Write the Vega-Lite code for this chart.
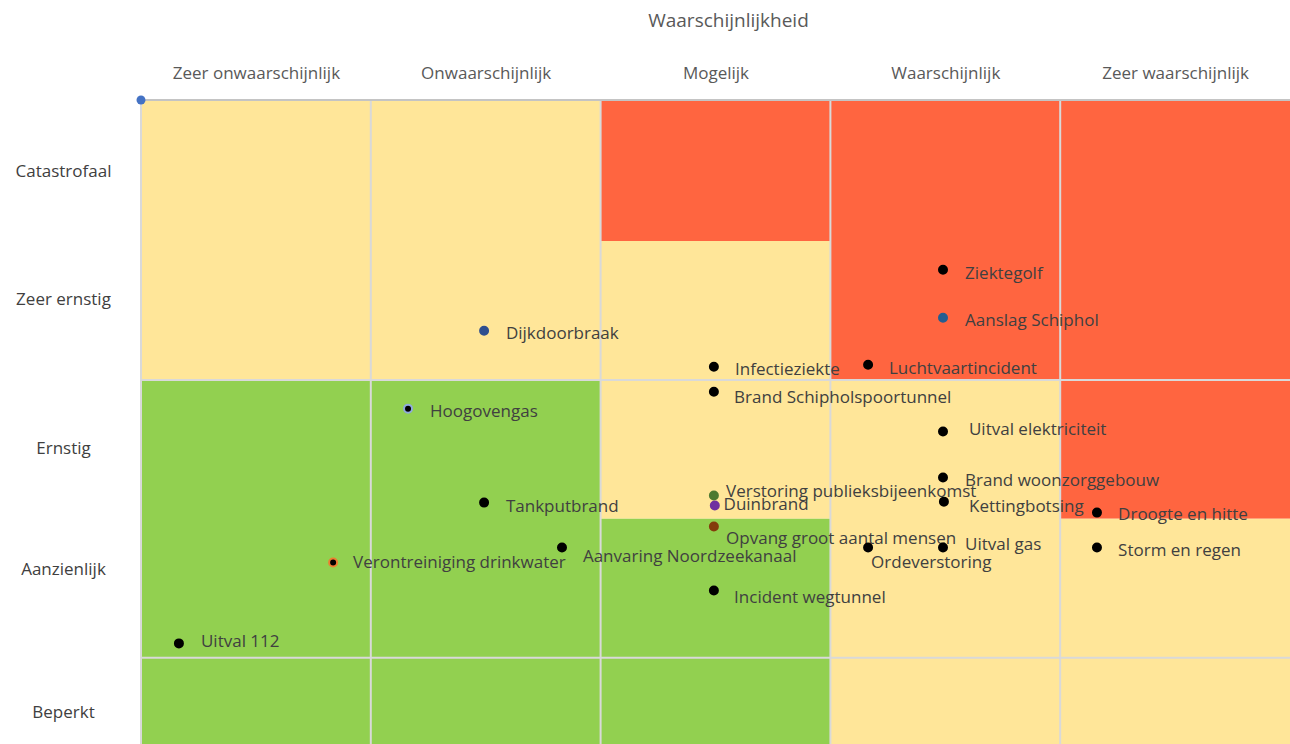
{
  "$schema": "https://vega.github.io/schema/vega-lite/v6.json",
  "width": 1149,
  "height": 644,
  "autosize": {"type": "none"},
  "padding": {"left": 141, "top": 100, "right": 0, "bottom": 0},
  "background": "white",
  "config": {"view": {"stroke": null}, "font": "Open Sans"},
  "resolve": {"scale": {"fill": "independent", "stroke": "independent"}},
  "datasets": {
    "zones": [
      {"x": 0, "x2": 2, "y": 3, "y2": 5.014, "zone": "geel"},
      {"x": 0, "x2": 2, "y": 0.38, "y2": 3, "zone": "groen"},
      {"x": 2, "x2": 3, "y": 4, "y2": 5.014, "zone": "rood"},
      {"x": 2, "x2": 3, "y": 2, "y2": 4, "zone": "geel"},
      {"x": 2, "x2": 3, "y": 0.38, "y2": 2, "zone": "groen"},
      {"x": 3, "x2": 4, "y": 3, "y2": 5.014, "zone": "rood"},
      {"x": 3, "x2": 4, "y": 0.38, "y2": 3, "zone": "geel"},
      {"x": 4, "x2": 5, "y": 2, "y2": 5.014, "zone": "rood"},
      {"x": 4, "x2": 5, "y": 0.38, "y2": 2, "zone": "geel"}
    ],
    "vlines": [{"x": 0}, {"x": 1}, {"x": 2}, {"x": 3}, {"x": 4}],
    "hlines": [{"y": 1}, {"y": 3}],
    "risicos": [
      {"naam": "Uitval 112", "x": 0.165, "y": 1.104, "lx": 0.261, "ly": 1.111, "markering": "zwart"},
      {"naam": "Verontreiniging drinkwater", "x": 0.836, "y": 1.686, "lx": 0.923, "ly": 1.679, "markering": "zwart, oranje rand"},
      {"naam": "Hoogovengas", "x": 1.162, "y": 2.793, "lx": 1.258, "ly": 2.771, "markering": "zwart, blauwe rand"},
      {"naam": "Dijkdoorbraak", "x": 1.493, "y": 3.354, "lx": 1.588, "ly": 3.332, "markering": "donkerblauw"},
      {"naam": "Tankputbrand", "x": 1.493, "y": 2.117, "lx": 1.588, "ly": 2.088, "markering": "zwart"},
      {"naam": "Aanvaring Noordzeekanaal", "x": 1.832, "y": 1.794, "lx": 1.923, "ly": 1.722, "markering": "zwart"},
      {"naam": "Infectieziekte", "x": 2.493, "y": 3.095, "lx": 2.585, "ly": 3.073, "markering": "zwart"},
      {"naam": "Brand Schipholspoortunnel", "x": 2.493, "y": 2.915, "lx": 2.581, "ly": 2.872, "markering": "zwart"},
      {"naam": "Verstoring publieksbijeenkomst", "x": 2.493, "y": 2.168, "lx": 2.546, "ly": 2.196, "markering": "groen"},
      {"naam": "Duinbrand", "x": 2.497, "y": 2.096, "lx": 2.535, "ly": 2.103, "markering": "paars"},
      {"naam": "Opvang groot aantal mensen", "x": 2.493, "y": 1.945, "lx": 2.546, "ly": 1.858, "markering": "bruin"},
      {"naam": "Incident wegtunnel", "x": 2.493, "y": 1.485, "lx": 2.581, "ly": 1.434, "markering": "zwart"},
      {"naam": "Luchtvaartincident", "x": 3.164, "y": 3.109, "lx": 3.255, "ly": 3.081, "markering": "zwart"},
      {"naam": "Ziektegolf", "x": 3.49, "y": 3.792, "lx": 3.586, "ly": 3.763, "markering": "zwart"},
      {"naam": "Aanslag Schiphol", "x": 3.49, "y": 3.447, "lx": 3.586, "ly": 3.426, "markering": "blauw"},
      {"naam": "Uitval elektriciteit", "x": 3.49, "y": 2.628, "lx": 3.603, "ly": 2.642, "markering": "zwart"},
      {"naam": "Brand woonzorggebouw", "x": 3.49, "y": 2.297, "lx": 3.586, "ly": 2.275, "markering": "zwart"},
      {"naam": "Kettingbotsing", "x": 3.494, "y": 2.124, "lx": 3.603, "ly": 2.088, "markering": "zwart"},
      {"naam": "Uitval gas", "x": 3.49, "y": 1.794, "lx": 3.586, "ly": 1.815, "markering": "zwart"},
      {"naam": "Ordeverstoring", "x": 3.164, "y": 1.794, "lx": 3.177, "ly": 1.679, "markering": "zwart"},
      {"naam": "Droogte en hitte", "x": 4.16, "y": 2.045, "lx": 4.252, "ly": 2.031, "markering": "zwart"},
      {"naam": "Storm en regen", "x": 4.16, "y": 1.794, "lx": 4.252, "ly": 1.772, "markering": "zwart"}
    ],
    "hoek": [{"x": 0, "y": 5.014}]
  },
  "layer": [
    {
      "data": {"name": "zones"},
      "mark": {"type": "rect"},
      "encoding": {
        "x": {"field": "x", "type": "quantitative", "scale": {"domain": [0, 5], "nice": false, "zero": false}, "axis": {
          "orient": "top", "values": [0.5, 1.5, 2.5, 3.5, 4.5],
          "labelExpr": "datum.value < 1 ? 'Zeer onwaarschijnlijk' : datum.value < 2 ? 'Onwaarschijnlijk' : datum.value < 3 ? 'Mogelijk' : datum.value < 4 ? 'Waarschijnlijk' : 'Zeer waarschijnlijk'",
          "ticks": false, "tickSize": 0, "domain": false, "grid": false,
          "labelFont": "Open Sans", "labelFontSize": 17, "labelColor": "#595959",
          "labelBaseline": "middle", "labelPadding": 27, "labelAlign": "center",
          "title": "Waarschijnlijkheid", "titleFont": "Open Sans", "titleFontSize": 19,
          "titleFontWeight": "normal", "titleColor": "#595959", "titleX": 587, "titleY": -80,
          "titleAlign": "center", "titleBaseline": "middle"
        }},
        "x2": {"field": "x2"},
        "y": {"field": "y", "type": "quantitative", "scale": {"domain": [0.38, 5.014], "nice": false, "zero": false}, "axis": {
          "orient": "left", "values": [0.607, 1.636, 2.505, 3.577, 4.497],
          "labelExpr": "datum.value > 4 ? 'Catastrofaal' : datum.value > 3 ? 'Zeer ernstig' : datum.value > 2 ? 'Ernstig' : datum.value > 1 ? 'Aanzienlijk' : 'Beperkt'",
          "ticks": false, "tickSize": 0, "domain": false, "grid": false,
          "labelFont": "Open Sans", "labelFontSize": 17, "labelColor": "#404040",
          "labelAlign": "center", "labelBaseline": "middle", "labelPadding": 78,
          "title": null
        }},
        "y2": {"field": "y2"},
        "fill": {"field": "zone", "type": "nominal", "legend": null,
          "scale": {"domain": ["geel", "groen", "rood"], "range": ["#FFE699", "#92D050", "#FF6540"]}}
      }
    },
    {
      "data": {"name": "vlines"},
      "mark": {"type": "rule", "color": "#D9D9D9", "strokeWidth": 2},
      "encoding": {"x": {"field": "x", "type": "quantitative"}}
    },
    {
      "data": {"name": "hlines"},
      "mark": {"type": "rule", "color": "#D9D9D9", "strokeWidth": 2},
      "encoding": {"y": {"field": "y", "type": "quantitative"}}
    },
    {
      "data": {"name": "hoek"},
      "mark": {"type": "rule", "color": "#C4C4C4", "strokeWidth": 2},
      "encoding": {"y": {"field": "y", "type": "quantitative"}}
    },
    {
      "data": {"name": "risicos"},
      "mark": {"type": "text", "align": "left", "baseline": "middle", "font": "Open Sans", "fontSize": 17, "color": "#404040"},
      "encoding": {
        "x": {"field": "lx", "type": "quantitative"},
        "y": {"field": "ly", "type": "quantitative"},
        "text": {"field": "naam"}
      }
    },
    {
      "data": {"name": "risicos"},
      "mark": {"type": "point", "shape": "circle", "filled": true, "size": 64, "strokeWidth": 2, "opacity": 1},
      "encoding": {
        "x": {"field": "x", "type": "quantitative"},
        "y": {"field": "y", "type": "quantitative"},
        "fill": {"field": "markering", "type": "nominal", "legend": null,
          "scale": {"domain": ["zwart", "zwart, oranje rand", "zwart, blauwe rand", "donkerblauw", "blauw", "groen", "paars", "bruin"],
                    "range": ["#000000", "#000000", "#000000", "#2F4F8F", "#255E91", "#4E7A30", "#7030A0", "#843C0C"]}},
        "stroke": {"field": "markering", "type": "nominal", "legend": null,
          "scale": {"domain": ["zwart", "zwart, oranje rand", "zwart, blauwe rand", "donkerblauw", "blauw", "groen", "paars", "bruin"],
                    "range": ["#000000", "#ED7D31", "#8FAADC", "#2F4F8F", "#255E91", "#4E7A30", "#7030A0", "#843C0C"]}}
      }
    },
    {
      "data": {"name": "hoek"},
      "mark": {"type": "point", "shape": "circle", "filled": true, "size": 80, "opacity": 1, "color": "#4472C4"},
      "encoding": {
        "x": {"value": 0},
        "y": {"field": "y", "type": "quantitative"}
      }
    }
  ]
}
